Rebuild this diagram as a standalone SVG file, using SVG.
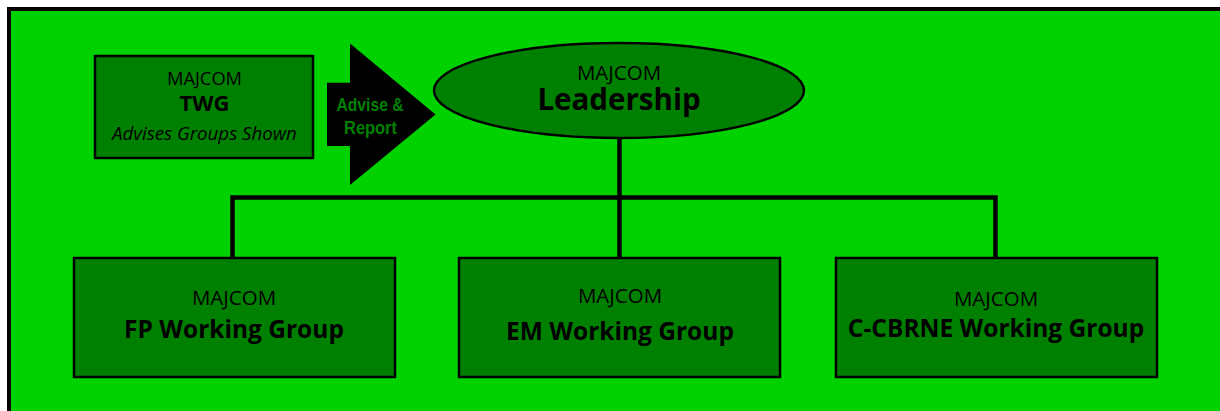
<svg xmlns="http://www.w3.org/2000/svg" width="1220" height="411" viewBox="0 0 1220 411">
<style>
.box{fill:#008000;stroke:#000;stroke-width:2.5}
.conn{fill:none;stroke:#000;stroke-width:4.5}
.t{font-family:"Open Sans","Liberation Sans",sans-serif;fill:#000;text-anchor:middle}
.r{font-size:20.5px}
.b{font-size:24.5px;font-weight:bold}
.a{font-family:"Liberation Sans",sans-serif;font-size:18px;font-weight:bold;fill:#008000;text-anchor:middle}
</style>
<rect x="0" y="0" width="1220" height="411" fill="#fff"/>
<rect x="9" y="9" width="1300" height="500" fill="#00D200" stroke="#000" stroke-width="4"/>
<g id="connectors">
<path class="conn" d="M619.5,138 V258"/>
<path class="conn" d="M232.5,258 V197.5 H995.5 V258"/>
</g>
<g id="twg">
<rect class="box" x="95" y="56" width="218" height="102"/>
<text class="t" x="204.5" y="85" font-size="18.3">MAJCOM</text>
<text class="t" x="204.5" y="111" font-size="22" font-weight="bold">TWG</text>
<text class="t" x="204.5" y="140" font-size="18.7" font-style="italic">Advises Groups Shown</text>
</g>
<g id="advise-arrow">
<polygon points="327,82.7 350,82.7 350,43.5 435.5,114.5 350,185 350,146 327,146" fill="#000"/>
<text class="a" x="370" y="110.7" textLength="67" lengthAdjust="spacingAndGlyphs">Advise &amp;</text>
<text class="a" x="370.5" y="134" textLength="53" lengthAdjust="spacingAndGlyphs">Report</text>
</g>
<g id="leadership">
<ellipse cx="619" cy="90.5" rx="185" ry="47.5" fill="#008000" stroke="#000" stroke-width="2.5"/>
<text class="t r" x="619" y="79.5">MAJCOM</text>
<text class="t" x="619" y="110" font-size="29.5" font-weight="bold">Leadership</text>
</g>
<g id="fp">
<rect class="box" x="74" y="258" width="321" height="119"/>
<text class="t r" x="234" y="305">MAJCOM</text>
<text class="t b" x="234" y="338">FP Working Group</text>
</g>
<g id="em">
<rect class="box" x="459" y="258" width="321" height="119"/>
<text class="t r" x="620" y="303">MAJCOM</text>
<text class="t b" x="620" y="340">EM Working Group</text>
</g>
<g id="cbrne">
<rect class="box" x="836" y="258" width="321" height="119"/>
<text class="t r" x="996" y="306">MAJCOM</text>
<text class="t b" x="996" y="337">C-CBRNE Working Group</text>
</g>
</svg>
